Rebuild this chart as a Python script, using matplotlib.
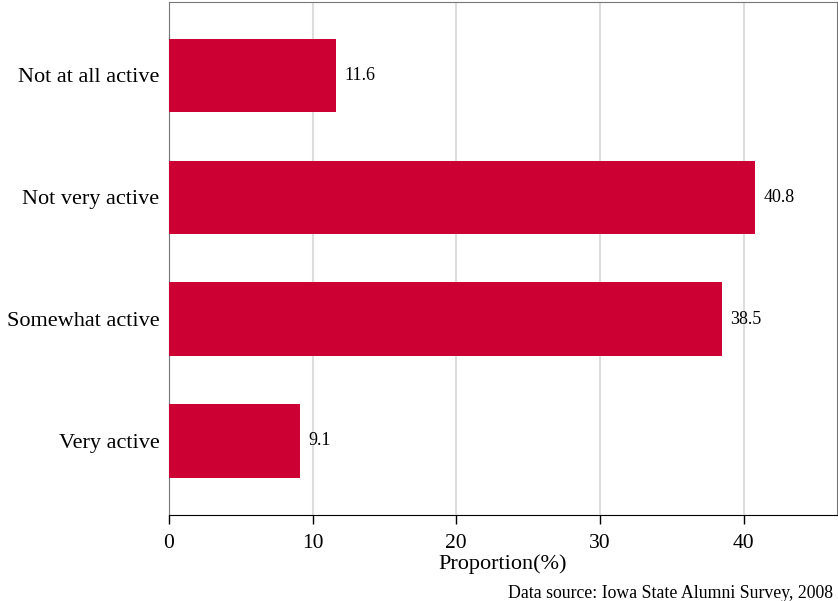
import matplotlib.pyplot as plt

# ---- data ------------------------------------------------------------------
categories = ['Not at all active', 'Not very active', 'Somewhat active', 'Very active']
proportions = [11.6, 40.8, 38.5, 9.1]
xticks = [0, 10, 20, 30, 40]

bar_color = '#CC0033'

plt.rcParams['font.family'] = ['Liberation Serif', 'DejaVu Serif']

fig = plt.figure(figsize=(8.38, 6.01), dpi=100)
ax = fig.add_axes([169 / 838, 86 / 601, 668 / 838, 513 / 601])

ypos = list(range(len(categories)))[::-1]
ax.barh(ypos, proportions, height=0.6, color=bar_color, zorder=3)

for y, v in zip(ypos, proportions):
    ax.annotate(f'{v:.1f}', xy=(v, y), xytext=(6, 0), textcoords='offset points',
                va='center', ha='left', fontsize=13)

ax.set_yticks(ypos)
ax.set_yticklabels(categories, fontsize=16)
ax.tick_params(axis='y', length=0, pad=7)

ax.set_xticks(xticks)
ax.tick_params(axis='x', labelsize=15.5, length=6.5, width=1, pad=7, color='black')
ax.set_xlim(0, 46.5)
ax.set_ylim(-0.607, 3.6)

ax.grid(axis='x', color='#dddddd', lw=1.5, zorder=0)
ax.set_axisbelow(True)

for side in ('left', 'top', 'right'):
    ax.spines[side].set_color('#777777')
ax.spines['bottom'].set_color('black')

ax.set_xlabel('Proportion(%)', fontsize=16, labelpad=1)

fig.text(833 / 838, 1 - 593 / 601, 'Data source: Iowa State Alumni Survey, 2008',
         ha='right', va='center', fontsize=12.8)

fig.savefig('out.png', dpi=100)
